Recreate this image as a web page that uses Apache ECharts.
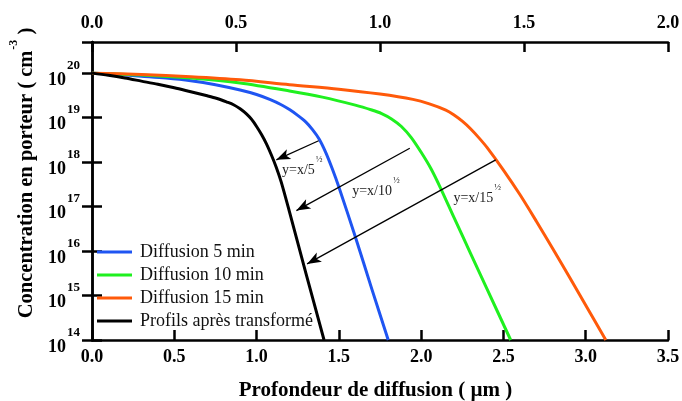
<!DOCTYPE html>
<html><head><meta charset="utf-8">
<script src="https://cdn.jsdelivr.net/npm/echarts@6/dist/echarts.min.js"></script>
<style>html,body{margin:0;padding:0;background:#fff}#c{width:682px;height:401px}</style>
</head><body><div id="c"></div>
<script>
// ---- data (concentration given as log10 exponent) ----
const seriesNames = ['Diffusion 5 min', 'Diffusion 10 min', 'Diffusion 15 min', 'Profils après transformé'];
const seriesColors = ['#1f55f2', '#1ff01f', '#ff5a0a', '#000000'];

const blueX = [0, 0.15, 0.3, 0.45, 0.6, 0.75, 0.9, 1.0, 1.08, 1.15, 1.2, 1.25, 1.3, 1.34, 1.38, 1.42, 1.46, 1.5, 1.6, 1.7, 1.8];
const blueE = [20, 19.97, 19.93, 19.89, 19.83, 19.74, 19.62, 19.52, 19.41, 19.29, 19.18, 19.05, 18.9, 18.73, 18.52, 18.22, 17.85, 17.44, 16.32, 15.15, 14];

const greenX = [0, 0.3, 0.6, 0.9, 1.2, 1.4, 1.6, 1.7, 1.76, 1.82, 1.88, 1.94, 2.0, 2.06, 2.12, 2.2, 2.3, 2.4, 2.544];
const greenE = [20, 19.96, 19.89, 19.78, 19.6, 19.46, 19.28, 19.17, 19.09, 18.97, 18.8, 18.55, 18.22, 17.85, 17.4, 16.75, 15.95, 15.15, 14];

const orangeX = [0, 0.3, 0.6, 0.9, 1.2, 1.5, 1.75, 1.95, 2.05, 2.15, 2.2, 2.25, 2.3, 2.35, 2.4, 2.5, 2.6, 2.7, 2.8, 2.9, 3.0, 3.122];
const orangeE = [20, 19.97, 19.92, 19.85, 19.74, 19.64, 19.53, 19.41, 19.31, 19.17, 19.06, 18.92, 18.75, 18.55, 18.33, 17.82, 17.27, 16.67, 16.05, 15.42, 14.78, 14];

const blackX = [0, 0.1, 0.2, 0.3, 0.4, 0.5, 0.6, 0.7, 0.76, 0.82, 0.86, 0.9, 0.94, 0.97, 1.0, 1.03, 1.06, 1.09, 1.12, 1.15, 1.2, 1.3, 1.41];
const blackE = [20, 19.95, 19.89, 19.82, 19.75, 19.67, 19.58, 19.49, 19.43, 19.35, 19.29, 19.2, 19.08, 18.96, 18.8, 18.62, 18.41, 18.16, 17.88, 17.55, 16.88, 15.5, 14];

// arrows: [x1, e1, x2, e2] (start -> arrow tip)
const arrows = [
  [1.377, 18.48, 1.12, 18.05],
  [1.931, 18.31, 1.242, 16.91],
  [2.453, 18.05, 1.307, 15.71]
];
// annotation labels
const annotX = [1.155, 1.581, 2.196];
const annotE = [17.91, 17.43, 17.28];
const annotText = ['y=x/5', 'y=x/10', 'y=x/15'];

const bottomTicks = { min: 0, max: 3.5, interval: 0.5 };
const topTicks = { min: 0, max: 2.0, interval: 0.5 };
const yRange = { minE: 14, maxE: 20.7 };

// ---- build ----
const P = e => Math.pow(10, e);
const pair = (xs, es) => xs.map((x, i) => [x, P(es[i])]);
const serif = 'Liberation Serif';

const lineData = [pair(blueX, blueE), pair(greenX, greenE), pair(orangeX, orangeE), pair(blackX, blackE)];

const series = lineData.map((d, i) => ({
  name: seriesNames[i], type: 'line', data: d, xAxisIndex: 0, yAxisIndex: 0,
  showSymbol: false, symbol: 'none', smooth: 0.3,
  lineStyle: { width: 3, color: seriesColors[i] }, itemStyle: { color: seriesColors[i] },
  z: 3
}));

series[3].markLine = {
  silent: true, symbol: ['none', 'arrow'], symbolSize: [8, 14], animation: false,
  lineStyle: { color: '#000', width: 1.3, type: 'solid' },
  label: { show: false }, emphasis: { disabled: true },
  data: arrows.map(a => [{ coord: [a[0], P(a[1])] }, { coord: [a[2], P(a[3])] }])
};
series[3].markPoint = {
  silent: true, symbol: 'circle', symbolSize: 0, animation: false,
  data: annotX.map((x, i) => ({
    coord: [x, P(annotE[i])],
    label: {
      show: true, position: 'right', distance: 0,
      formatter: '{a|' + annotText[i] + '}{s|½}',
      rich: {
        a: { fontFamily: serif, fontSize: 14, lineHeight: 14, color: '#222', padding: [8, 0, 0, 0] },
        s: { fontFamily: serif, fontSize: 9, lineHeight: 9, color: '#222', padding: [0, 0, 13, 1] }
      }
    }
  }))
};

const supRich = {
  b: { fontFamily: serif, fontSize: 18, fontWeight: 'bold', color: '#000', lineHeight: 18, padding: [14, 0, 0, 0] },
  s: { fontFamily: serif, fontSize: 13, fontWeight: 'bold', color: '#000', lineHeight: 13, padding: [2, 0, 17, 1] }
};

const axisLine = { show: true, lineStyle: { color: '#000', width: 2.5 } };
const tick = { show: true, inside: true, length: 10, lineStyle: { color: '#000', width: 2.5 } };

const option = {
  animation: false,
  backgroundColor: '#fff',
  grid: { left: 92, right: 14, top: 42, bottom: 61, containLabel: false, outerBoundsMode: 'none' },
  legend: {
    data: seriesNames, orient: 'vertical', left: 97, top: 243, padding: 0,
    icon: 'rect', itemWidth: 35, itemHeight: 3, itemGap: 5,
    textStyle: { fontFamily: serif, fontSize: 18, lineHeight: 14, color: '#111', padding: [0, 0, 0, 3] },
    backgroundColor: 'transparent'
  },
  xAxis: [
    {
      type: 'value', position: 'bottom', min: bottomTicks.min, max: bottomTicks.max, interval: bottomTicks.interval,
      axisLine, splitLine: { show: false }, axisTick: tick,
      axisLabel: { margin: 8, fontFamily: serif, fontSize: 18, fontWeight: 'bold', color: '#000', formatter: v => v.toFixed(1) },
      name: 'Profondeur de diffusion ( µm )', nameLocation: 'middle', nameGap: 40,
      nameTextStyle: { fontFamily: serif, fontSize: 21, fontWeight: 'bold', color: '#000', padding: [0, 9, 0, 0] }
    },
    {
      type: 'value', position: 'top', min: topTicks.min, max: topTicks.max, interval: topTicks.interval,
      axisLine, splitLine: { show: false }, axisTick: tick,
      axisLabel: { margin: 10, fontFamily: serif, fontSize: 18, fontWeight: 'bold', color: '#000', formatter: v => v.toFixed(1) }
    }
  ],
  yAxis: [
    {
      type: 'log', logBase: 10, position: 'left', min: P(yRange.minE), max: P(yRange.maxE), interval: 1,
      axisLine, splitLine: { show: false }, minorTick: { show: false }, axisTick: tick,
      axisLabel: {
        margin: 12, showMaxLabel: false,
        formatter: v => '{b|10}{s|' + Math.round(Math.log10(v)) + '}',
        rich: supRich
      },
      name: '{m|Concentration en porteur ( cm}{s|-3}{m| )}', nameLocation: 'middle', nameRotate: 90, nameGap: 54,
      nameTextStyle: {
        padding: [0, 0, 0, 36],
        rich: {
          m: { fontFamily: serif, fontSize: 20.5, fontWeight: 'bold', color: '#000', lineHeight: 20, padding: [12, 0, 0, 0] },
          s: { fontFamily: serif, fontSize: 12, fontWeight: 'bold', color: '#000', lineHeight: 12, padding: [3, 0, 17, 1] }
        }
      }
    },
    {
      type: 'log', logBase: 10, position: 'right', min: P(yRange.minE), max: P(yRange.maxE), interval: 1,
      axisLine, splitLine: { show: false }, axisTick: tick,
      axisLabel: { show: false }
    }
  ],
  series
};

const chart = echarts.init(document.getElementById('c'), null, { renderer: 'canvas' });
chart.setOption(option);
</script>
</body></html>
